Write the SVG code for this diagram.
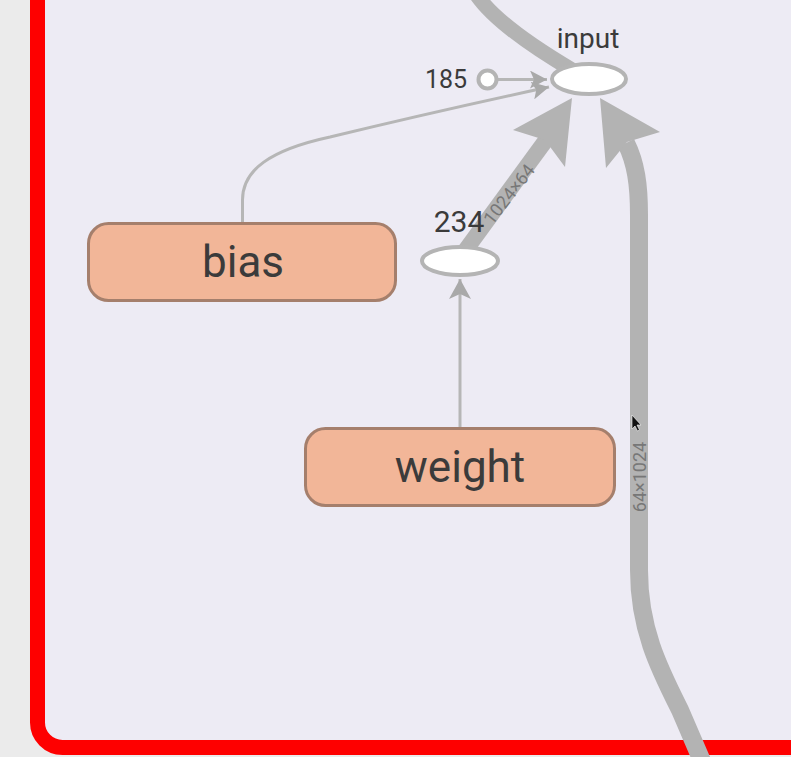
<svg xmlns="http://www.w3.org/2000/svg" width="791" height="757" viewBox="0 0 791 757">
  <defs>
    <style>
      .frame { fill: #edebf4; stroke: #fe0000; stroke-width: 15; }
      .op { fill: #f2b698; stroke: #a57f6c; stroke-width: 3; }
      .opl { font-family: Roboto, "Liberation Sans", sans-serif; font-size: 44px; fill: #3b3b3b; text-anchor: middle; }
      .ell { fill: #ffffff; stroke: #b4b4b4; stroke-width: 4; }
      .lbl { font-family: Roboto, "Liberation Sans", sans-serif; fill: #3b3b3b; text-anchor: middle; }
      .thin { fill: none; stroke: #b6b6b6; stroke-width: 3; }
      .thick { fill: none; stroke: #b3b3b3; }
      .head { fill: #b3b3b3; }
      .elbl { font-family: Roboto, "Liberation Sans", sans-serif; font-size: 18px; fill: #777777; text-anchor: middle; }
    </style>
    <marker id="arrow" markerUnits="userSpaceOnUse" markerWidth="22" markerHeight="22" refX="20" refY="11" orient="auto">
      <path d="M0,0 L20,11 L0,22 L5,11 Z" fill="#a9a9a9"/>
    </marker>
    <marker id="arrowS" markerUnits="userSpaceOnUse" markerWidth="18" markerHeight="18" refX="17" refY="9" orient="auto">
      <path d="M0,0 L17,9 L0,18 L4,9 Z" fill="#a9a9a9"/>
    </marker>
  </defs>

  <rect x="0" y="0" width="791" height="757" fill="#ebebeb"/>
  <rect class="frame" x="37.5" y="-60" width="820" height="807.5" rx="25" ry="25"/>

  <g id="connectors">
    <!-- input -> upward (outgoing) -->
    <path class="thick" stroke-width="15" d="M476,-6 C492,18 528,44 572,70"/>
    <!-- 185 -> input -->
    <path class="thin" d="M497,79.5 L547,79.5" marker-end="url(#arrowS)"/>
    <!-- bias -> input -->
    <path class="thin" d="M242.5,222 L242.5,200 C242.5,170 270,150 330,137 C400,120 470,104 549,87" marker-end="url(#arrowS)"/>
    <!-- weight -> 234 -->
    <path class="thin" d="M460,427 L460,279" marker-end="url(#arrow)"/>
    <!-- 234 -> input (1024x64) -->
    <path class="thick" stroke-width="16" d="M462,255 L546,140"/>
    <polygon class="head" points="572,98 513,130 545,140 565,167"/>
    <text class="elbl" transform="translate(514,198) rotate(-52)">1024×64</text>
    <!-- bottom -> input (64x1024) -->
    <path class="thick" stroke-width="18" d="M708,775 L680,710 C660,670 639,630 639,570 L639,215 C639,185 636,163 626,143"/>
    <polygon class="head" points="600,98 660,132 627,142 606,168"/>
    <text class="elbl" transform="translate(645.5,477) rotate(-90)">64×1024</text>
  </g>

  <g id="node-input">
    <ellipse class="ell" cx="589" cy="79" rx="37" ry="15"/>
    <text class="lbl" x="588" y="48" font-size="28">input</text>
  </g>

  <g id="node-185">
    <circle class="ell" cx="487.5" cy="79.5" r="9" stroke-width="3.5"/>
    <text class="lbl" x="446" y="88" font-size="25">185</text>
  </g>

  <g id="node-234">
    <ellipse class="ell" cx="460" cy="261" rx="38" ry="14"/>
    <text class="lbl" x="459" y="232" font-size="30">234</text>
  </g>

  <g id="node-bias">
    <rect class="op" x="88.5" y="223.5" width="307" height="77" rx="20" ry="20"/>
    <text class="opl" x="243" y="277">bias</text>
  </g>

  <g id="node-weight">
    <rect class="op" x="305.5" y="428.5" width="309" height="77" rx="20" ry="20"/>
    <text class="opl" x="460" y="482">weight</text>
  </g>

  <path d="M632,415 L632,429 L635,426 L637.5,431 L639.5,430 L637,425 L641,425 Z" fill="#111111" stroke="#ffffff" stroke-width="0.6"/>
</svg>
